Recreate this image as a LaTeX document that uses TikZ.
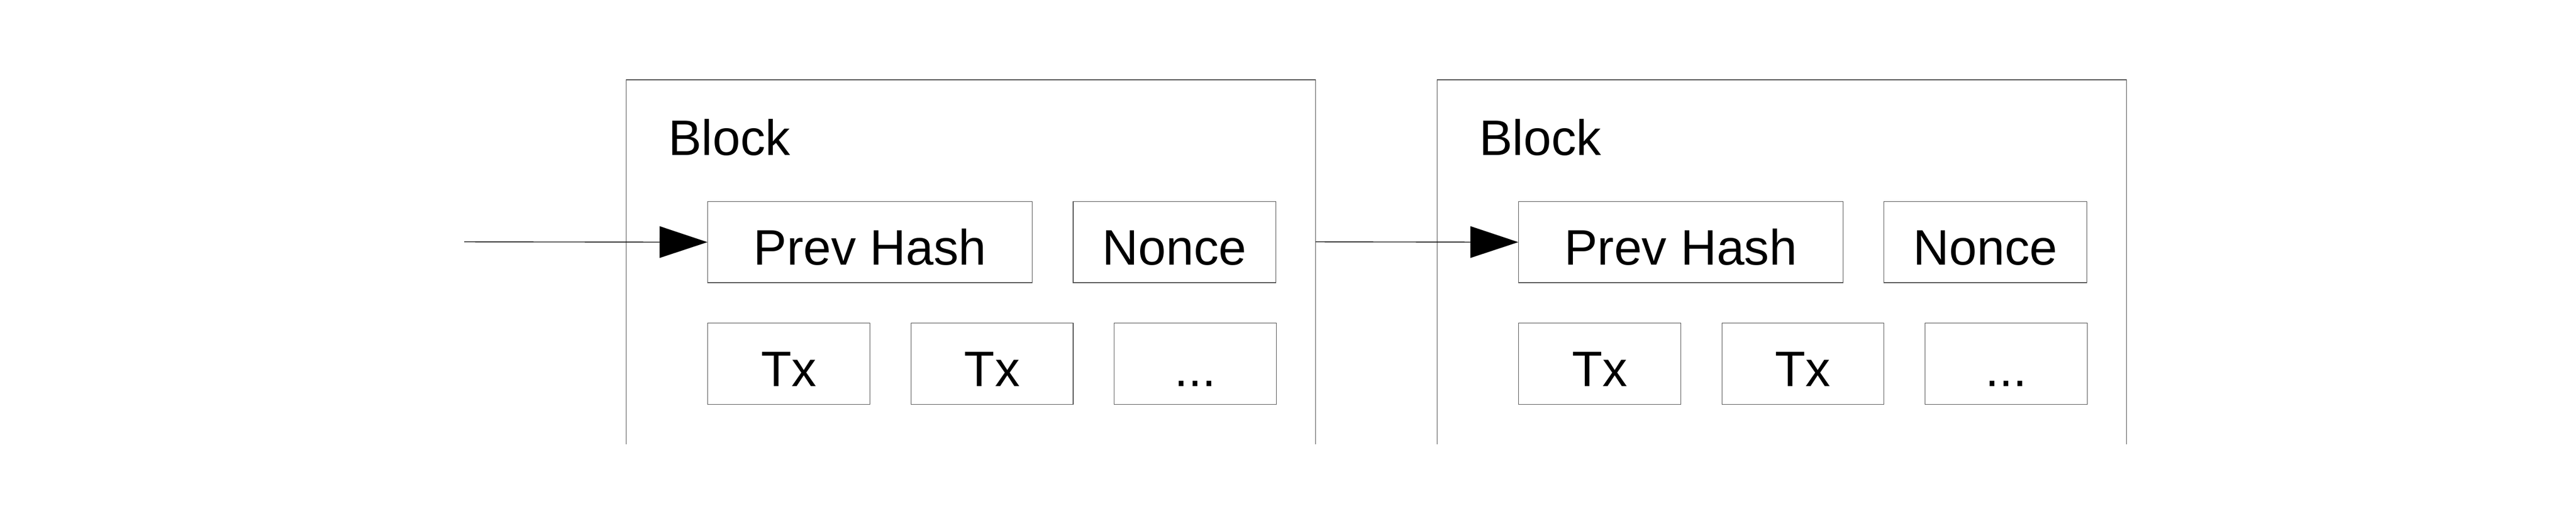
\documentclass[tikz,border=0pt]{standalone}
\usepackage{fontspec}
\setmainfont{Liberation Sans}
\usetikzlibrary{positioning,arrows.meta}
\newcommand{\labelsize}{\fontsize{35}{42}\selectfont}

\begin{document}
\begin{tikzpicture}[node distance=1cm,
    frame/.style={draw=black!70,line width=0.4pt},
    field/.style={frame,minimum height=2cm,inner sep=0pt,
      text height=33pt,text depth=1pt,font=\labelsize},
    link/.style={-{Triangle[length=1.18cm,width=0.78cm]},line width=0.5pt}]

  \useasboundingbox (-15.45,1.97) rectangle (48.09,-10.88);

  % first block
  \draw [frame] (0,-9) -- (0,0) -- (17,0) -- (17,-9);
  \node [anchor=base west,inner sep=0pt,font=\labelsize] (title1) at (1.03,-1.86) {Block};

  \node [field,minimum width=8cm,anchor=north west] (hash1) at (2,-3) {Prev Hash};
  \node [field,minimum width=5cm,right=of hash1] (nonce1) {Nonce};

  \node [field,minimum width=4cm,anchor=north west] (txa1) at (2,-6) {Tx};
  \node [field,minimum width=4cm,right=of txa1] (txb1) {Tx};
  \node [field,minimum width=4cm,right=of txb1] (more1) {...};

  % second block
  \draw [frame] (20,-9) -- (20,0) -- (37,0) -- (37,-9);
  \node [anchor=base west,inner sep=0pt,font=\labelsize] (title2) at (21.03,-1.86) {Block};

  \node [field,minimum width=8cm,anchor=north west] (hash2) at (22,-3) {Prev Hash};
  \node [field,minimum width=5cm,right=of hash2] (nonce2) {Nonce};

  \node [field,minimum width=4cm,anchor=north west] (txa2) at (22,-6) {Tx};
  \node [field,minimum width=4cm,right=of txa2] (txb2) {Tx};
  \node [field,minimum width=4cm,right=of txb2] (more2) {...};

  % links
  \coordinate (start) at (-4,-4);
  \coordinate (out1) at (17,-4);

  \draw [link] (start) -- (hash1.west);
  \draw [link] (out1) -- (hash2.west);

\end{tikzpicture}
\end{document}
